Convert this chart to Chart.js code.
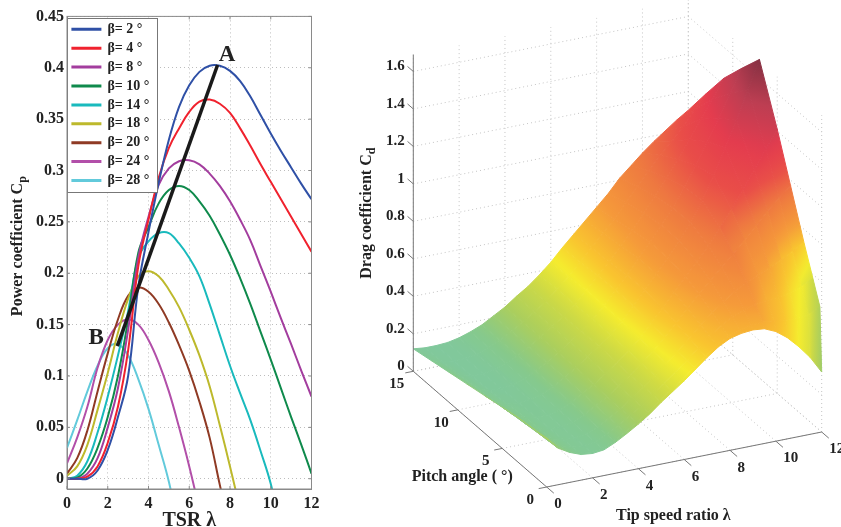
<!DOCTYPE html>
<html><head><meta charset="utf-8">
<script src="https://cdn.jsdelivr.net/npm/chart.js@4/dist/chart.umd.js"></script>
<style>
html,body{margin:0;padding:0;background:#fff;width:841px;height:527px;overflow:hidden}
canvas{position:absolute;top:0}
#cpChart{left:0}#cdChart{left:340px}
</style></head><body>
<canvas id="cpChart" width="340" height="527"></canvas>
<canvas id="cdChart" width="501" height="527"></canvas>
<script>
// ---------- left panel data ----------
const lambdaGrid=[0,.5,1,1.5,2,2.5,3,3.5,4,4.5,5,5.5,6,6.5,7,7.5,8,8.5,9,9.5,10,10.5,11,11.5,12];
const cpBeta2=[0,0,0,.008,.028,.06,.1,.187,.24,.288,.33,.362,.383,.396,.402,.402,.397,.387,.372,.354,.336,.319,.303,.287,.272];
const cpBeta4=[0,0,.002,.012,.035,.07,.125,.207,.252,.293,.322,.341,.357,.367,.369,.365,.356,.341,.324,.306,.289,.272,.255,.238,.221];
const cpBeta8=[0,0,.005,.02,.05,.088,.145,.215,.255,.286,.302,.309,.31,.306,.297,.285,.27,.252,.232,.207,.182,.156,.131,.105,.08];
const cpBeta10=[0,.001,.01,.03,.06,.1,.155,.22,.245,.268,.281,.285,.281,.27,.256,.238,.218,.195,.17,.143,.116,.088,.06,.033,.005];
const cpBeta14=[0,.003,.017,.045,.08,.12,.163,.215,.231,.239,.239,.229,.215,.197,.17,.14,.11,.083,.057,.027,-.005,-.05];
const cpBeta18=[.003,.012,.033,.067,.103,.142,.175,.197,.202,.197,.184,.167,.145,.12,.09,.052,.012,-.03];
const cpBeta20=[.005,.02,.047,.085,.122,.155,.178,.186,.182,.17,.152,.13,.105,.075,.04,-.006,-.05];
const cpBeta24=[.015,.04,.07,.108,.135,.15,.155,.15,.135,.113,.085,.05,.012,-.03];
const cpBeta28=[.03,.057,.085,.11,.127,.131,.12,.097,.068,.033,-.003,-.05];
const cpSeries=[cpBeta2,cpBeta4,cpBeta8,cpBeta10,cpBeta14,cpBeta18,cpBeta20,cpBeta24,cpBeta28];
const cpLabels=["β= 2 °","β= 4 °","β= 8 °","β= 10 °","β= 14 °","β= 18 °","β= 20 °","β= 24 °","β= 28 °"];
const cpColors=["#2F50A6","#F0222E","#A33D9E","#0F8A4C","#19BABD","#BDB92C","#8F3A24","#B24FA9","#62CADB"];
const lineABx=[2.47,7.39];
const lineABy=[.129,.4027];
const xTicksLeft=[0,2,4,6,8,10,12];
const yTicksLeft=[0,.05,.1,.15,.2,.25,.3,.35,.4,.45];
// ---------- right panel data ----------
const cdLambda=[0,.5,1,1.5,2,2.5,3,3.5,4,4.5,5,5.5,6,6.5,7,7.5,8,8.5,9,9.5,10,10.5,11,11.5,12];
const cdBeta=[0,.2,1,2,3.5,5,7,9,11,13,15];
const cdB0 =[.26,.195,.16,.137,.13,.137,.165,.20,.238,.28,.33,.375,.42,.47,.52,.565,.597,.612,.618,.612,.585,.54,.48,.41,.32];
const cdB02=[.258,.194,.16,.137,.13,.138,.165,.20,.238,.28,.33,.375,.42,.47,.52,.565,.60,.62,.635,.64,.635,.625,.62,.63,.66];
const cdB1 =[.25,.19,.155,.135,.13,.138,.165,.20,.238,.28,.33,.375,.425,.475,.53,.58,.625,.66,.685,.70,.71,.715,.725,.745,.78];
const cdB2 =[.245,.185,.15,.133,.13,.14,.165,.20,.238,.282,.33,.38,.43,.485,.54,.60,.655,.70,.745,.775,.805,.83,.86,.895,.93];
const cdB35=[.235,.175,.145,.13,.13,.142,.17,.205,.24,.285,.33,.38,.435,.495,.56,.625,.69,.75,.81,.87,.93,.995,1.06,1.115,1.17];
const cdB5 =[.22,.165,.14,.13,.13,.143,.17,.207,.245,.29,.335,.385,.44,.51,.58,.65,.72,.79,.86,.945,1.03,1.125,1.22,1.315,1.41];
const cdB7 =[.20,.15,.13,.125,.13,.145,.175,.21,.25,.295,.34,.39,.45,.52,.59,.665,.74,.82,.90,1.01,1.13,1.265,1.40,1.55,1.70];
const cdB9 =[.18,.14,.12,.118,.125,.145,.175,.21,.25,.295,.34,.39,.45,.52,.59,.665,.74,.82,.90,1.0,1.10,1.215,1.33,1.45,1.57];
const cdB11=[.16,.13,.115,.115,.125,.147,.175,.21,.25,.293,.335,.385,.45,.515,.58,.65,.72,.80,.88,.965,1.05,1.145,1.24,1.335,1.435];
const cdB13=[.14,.12,.113,.115,.125,.148,.175,.21,.248,.29,.333,.385,.44,.505,.57,.635,.70,.775,.85,.92,.99,1.055,1.12,1.195,1.27];
const cdB15=[.12,.113,.113,.117,.13,.15,.175,.21,.245,.29,.33,.38,.435,.50,.56,.62,.68,.74,.81,.865,.92,.97,1.015,1.06,1.10];
const cdRows=[cdB0,cdB02,cdB1,cdB2,cdB35,cdB5,cdB7,cdB9,cdB11,cdB13,cdB15];
// colour level differs from height near the right-hand corner: [row, column, level]
const shadeOverrides=[[0,24,.22],[0,23,.38],[0,22,.45],[0,21,.52],[0,20,.58],
 [1,24,.27],[1,23,.40],[1,22,.46],[1,21,.54],[1,20,.6],
 [2,24,.36],[2,23,.44],[2,22,.5],[2,21,.58],[2,20,.62],
 [3,24,.55],[3,23,.55],[3,22,.6],[3,21,.66],[3,20,.7],
 [4,24,.95],[4,23,.92],[4,22,.88],[4,21,.85],[4,20,.82]];
const zTicks=[0,.2,.4,.6,.8,1,1.2,1.4,1.6];
const zTickLabels=["0","0.2","0.4","0.6","0.8","1","1.2","1.4","1.6"];
const pitchTicks=[0,5,10,15];
const tsrTicks=[0,2,4,6,8,10,12];

const SERIF='"Liberation Serif","Times New Roman",serif';
const INK='#222';
// ---------- left chart ----------
const leftFrame={id:'leftFrame',
 afterLayout(c){const l=c.legend;l.left=67.5;l.top=17.4;l.right=157;l.bottom=480;},
 afterDatasetsDraw(c){
  const g=c.ctx,a=c.chartArea,sx=c.scales.x,sy=c.scales.y;
  g.save();
  g.fillStyle='#fff';g.strokeStyle='#777';g.lineWidth=1;
  g.fillRect(67,18,90.5,174.5);
  g.restore();
  c.legend.draw();
  g.save();
  g.strokeStyle='#777';g.lineWidth=1;
  g.strokeRect(67.5,18.5,90,174);
  g.strokeStyle='#8a8a8a';
  g.strokeRect(a.left,a.top,a.right-a.left,a.bottom-a.top);
  g.beginPath();
  for(const v of yTicksLeft){const y=sy.getPixelForValue(v);g.moveTo(a.right,y);g.lineTo(a.right-3,y);if(y>192){g.moveTo(a.left,y);g.lineTo(a.left+3,y);}}
  for(const v of xTicksLeft){const x=sx.getPixelForValue(v);g.moveTo(x,a.bottom);g.lineTo(x,a.bottom-3);if(x>157){g.moveTo(x,a.top);g.lineTo(x,a.top+3);}}
  g.stroke();
  g.fillStyle=INK;g.textAlign='center';g.textBaseline='middle';
  g.font='bold 23px '+SERIF;
  g.fillText('A',sx.getPixelForValue(7.85),sy.getPixelForValue(.4125));
  g.fillText('B',sx.getPixelForValue(1.43),sy.getPixelForValue(.137));
  g.translate(18,246);g.rotate(-Math.PI/2);
  g.font='bold 16px '+SERIF;g.textAlign='left';
  const t='Power coefficient C',w=g.measureText(t).width,tot=w+7,s=-tot/2;
  g.fillText(t,s,0);
  g.font='bold 12px '+SERIF;g.fillText('p',s+w,5);
  g.restore();
 }};
const leftDatasets=[{label:'',data:lineABx.map((x,i)=>({x,y:lineABy[i]})),borderColor:'#1a1a1a',backgroundColor:'#1a1a1a',borderWidth:3.5,pointRadius:0,showLine:true,tension:0}];
cpSeries.forEach((s,i)=>leftDatasets.push({label:cpLabels[i],data:s.map((y,k)=>({x:lambdaGrid[k],y})),borderColor:cpColors[i],backgroundColor:cpColors[i],borderWidth:2,pointRadius:0,showLine:true,tension:.4}));
new Chart(document.getElementById('cpChart'),{type:'scatter',data:{datasets:leftDatasets},plugins:[leftFrame],
 options:{responsive:false,animation:false,devicePixelRatio:1,events:[],
  layout:{padding:{left:0,top:16.4,right:28.5,bottom:0}},
  plugins:{tooltip:{enabled:false},title:{display:false},
   legend:{position:'chartArea',align:'start',labels:{filter:i=>!!i.text,boxWidth:28,boxHeight:1,padding:4.9,color:INK,font:{family:SERIF,size:14,weight:'bold'}}}},
  scales:{
   x:{type:'linear',min:0,max:12,afterFit:s=>{s.height=38},afterBuildTicks:s=>{s.ticks=xTicksLeft.map(value=>({value}))},
    grid:{color:'#bdbdbd',drawTicks:false},border:{color:'#8a8a8a',dash:[1,3]},
    ticks:{padding:5,maxRotation:0,autoSkip:false,color:INK,font:{family:SERIF,size:16,weight:'bold'},callback:v=>String(v)},
    title:{display:true,text:'TSR λ',color:INK,padding:{top:0,bottom:-6},font:{family:SERIF,size:20,weight:'bold'}}},
   y:{type:'linear',min:-.01,max:.45,afterFit:s=>{s.width=67},afterBuildTicks:s=>{s.ticks=yTicksLeft.map(value=>({value}))},
    grid:{color:'#bdbdbd',drawTicks:false},border:{color:'#8a8a8a',dash:[1,3]},
    ticks:{padding:3,autoSkip:false,color:INK,font:{family:SERIF,size:16,weight:'bold'},callback:v=>String(+v.toFixed(2))}}
  }}});

// ---------- right chart: 3D axes mapped on to plain linear scales ----------
const VIEW={ox:546.7,oy:487,lx:275/12,ly:-55/12,bx:-133.4/15,by:-115.7/15,zy:-187.4,zTop:1.69};
const proj=(l,b,z)=>({x:VIEW.ox+l*VIEW.lx+b*VIEW.bx,y:VIEW.oy+l*VIEW.ly+b*VIEW.by+z*VIEW.zy});
const RAMP=[[.10,[127,200,160]],[.16,[134,201,140]],[.25,[170,206,94]],[.35,[204,217,70]],[.45,[245,236,46]],[.55,[249,197,47]],[.7,[245,154,58]],[.9,[238,122,64]],[1.1,[233,78,72]],[1.3,[228,60,78]],[1.5,[190,62,82]],[1.7,[132,48,66]]];
function ramp(c){
 if(c<=RAMP[0][0])return RAMP[0][1];
 for(let i=1;i<RAMP.length;i++){if(c<=RAMP[i][0]){const a=RAMP[i-1],b=RAMP[i],t=(c-a[0])/(b[0]-a[0]);return a[1].map((v,k)=>v+(b[1][k]-v)*t);}}
 return RAMP[RAMP.length-1][1];
}
const rgb=a=>`rgb(${a.map(v=>Math.round(v)).join(',')})`;
const rightCanvas=document.getElementById('cdChart');
const rctx=rightCanvas.getContext('2d');
const X0=340;
function shade(i,j){for(const o of shadeOverrides)if(o[0]===i&&o[1]===j)return o[2];return cdRows[i][j];}
function quadGradient(pts,cs){
 const n=4;let mx=0,my=0,mc=0;pts.forEach((p,i)=>{mx+=p.x/n;my+=p.y/n;mc+=cs[i]/n;});
 let xx=0,xy=0,yy=0,xc=0,yc=0;
 pts.forEach((p,i)=>{const dx=p.x-mx,dy=p.y-my,dc=cs[i]-mc;xx+=dx*dx;xy+=dx*dy;yy+=dy*dy;xc+=dx*dc;yc+=dy*dc;});
 const det=xx*yy-xy*xy||1e-9;const a=(xc*yy-yc*xy)/det,b=(yc*xx-xc*xy)/det,m=Math.hypot(a,b);
 if(m<1e-7)return rgb(ramp(mc));
 const ux=a/m,uy=b/m;let t0=1e9,t1=-1e9;
 pts.forEach(p=>{const t=(p.x-mx)*ux+(p.y-my)*uy;t0=Math.min(t0,t);t1=Math.max(t1,t);});
 const gr=rctx.createLinearGradient(mx+ux*t0-X0,my+uy*t0,mx+ux*t1-X0,my+uy*t1);
 for(let k=0;k<=6;k++){const f=k/6,t=t0+(t1-t0)*f;gr.addColorStop(f,rgb(ramp(mc+m*t)));}
 return gr;
}
const rightDatasets=[];
const seg=(a,b,color,dash,w)=>({data:[a,b],borderColor:color,borderWidth:w||1,borderDash:dash||[],pointRadius:0,showLine:true,tension:0,fill:false});
const AXIS='#777';
rightDatasets.push(seg(proj(0,15,0),proj(0,15,VIEW.zTop),AXIS));
rightDatasets.push(seg(proj(0,15,0),proj(0,0,0),AXIS));
rightDatasets.push(seg(proj(0,0,0),proj(12,0,0),AXIS));
zTicks.forEach(z=>rightDatasets.push(seg(proj(0,15,z),proj(0,15.65,z),AXIS)));
pitchTicks.forEach(b=>rightDatasets.push(seg(proj(0,b,0),proj(-.35,b,0),AXIS)));
tsrTicks.forEach(l=>rightDatasets.push(seg(proj(l,0,0),proj(l,-.8,0),AXIS)));
// surface cells, nearest first (the first dataset is painted last)
for(let i=0;i<cdBeta.length-1;i++){
 for(let j=0;j<cdLambda.length-1;j++){
  const idx=[[i,j],[i,j+1],[i+1,j+1],[i+1,j]];
  const pts=idx.map(([r,c])=>proj(cdLambda[c],cdBeta[r],cdRows[r][c]));
  const cs=idx.map(([r,c])=>shade(r,c));
  const g=quadGradient(pts,cs);
  rightDatasets.push({data:[...pts,pts[0]],fill:'shape',backgroundColor:g,borderColor:g,borderWidth:1,pointRadius:0,showLine:true,tension:0});
 }
}
// dotted walls and floor
const GRID='#c4c4c4',DOT=[1,3];
tsrTicks.forEach(l=>{rightDatasets.push(seg(proj(l,15,0),proj(l,15,VIEW.zTop),GRID,DOT));rightDatasets.push(seg(proj(l,0,0),proj(l,15,0),GRID,DOT));});
pitchTicks.forEach(b=>{rightDatasets.push(seg(proj(12,b,0),proj(12,b,VIEW.zTop),GRID,DOT));rightDatasets.push(seg(proj(0,b,0),proj(12,b,0),GRID,DOT));});
zTicks.forEach(z=>{rightDatasets.push(seg(proj(0,15,z),proj(12,15,z),GRID,DOT));rightDatasets.push(seg(proj(12,15,z),proj(12,0,z),GRID,DOT));});

const rightText={id:'rightText',afterDatasetsDraw(c){
 const g=c.ctx,sx=c.scales.x,sy=c.scales.y;
 const P=(x,y)=>[sx.getPixelForValue(x),sy.getPixelForValue(y)];
 g.save();g.fillStyle=INK;g.textBaseline='middle';
 g.font='bold 15px '+SERIF;
 g.textAlign='right';
 zTicks.forEach((z,i)=>{const p=proj(0,15,z);g.fillText(zTickLabels[i],...P(p.x-8.5,p.y-5));});
 g.textAlign='center';
 pitchTicks.forEach(b=>{const p=proj(0,b,0);g.fillText(String(b),...P(p.x-16.5,p.y+13));});
 g.textAlign='left';
 tsrTicks.forEach(l=>{const p=proj(l,0,0);g.fillText(String(l),...P(p.x+7.5,p.y+17.3));});
 g.font='bold 16px '+SERIF;
 g.fillText('Pitch angle ( °)',...P(411.7,477));
 g.fillText('Tip speed ratio λ',...P(616,516));
 const [tx,ty]=P(367,213);
 g.translate(tx,ty);g.rotate(-Math.PI/2);
 const t='Drag coefficient C',w=g.measureText(t).width,s=-(w+7)/2;
 g.fillText(t,s,0);
 g.font='bold 12px '+SERIF;g.fillText('d',s+w,5);
 g.restore();
}};
new Chart(rightCanvas,{type:'scatter',data:{datasets:rightDatasets},plugins:[rightText],
 options:{responsive:false,animation:false,devicePixelRatio:1,events:[],
  layout:{padding:0},
  plugins:{legend:{display:false},tooltip:{enabled:false}},
  scales:{x:{type:'linear',display:false,min:X0,max:841},y:{type:'linear',display:false,reverse:true,min:0,max:527}}}});
</script>
</body></html>
